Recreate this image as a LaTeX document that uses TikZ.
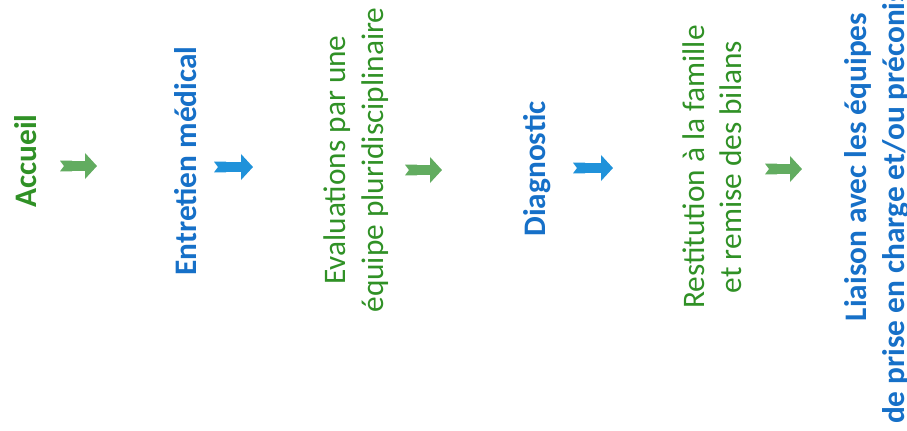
\documentclass[tikz,border=0pt]{standalone}
\usepackage{fontspec}
\setmainfont{Carlito}
\usetikzlibrary{arrows.meta}
\definecolor{stepgreen}{RGB}{48,145,38}
\definecolor{stepblue}{RGB}{22,112,200}
\definecolor{arrgreen}{RGB}{98,172,96}
\definecolor{arrblue}{RGB}{32,146,218}

\begin{document}
\begin{tikzpicture}[x=0.75pt, y=-0.75pt,
    stp/.style={rotate=90, align=center, inner sep=0pt, text=#1,
      font=\fontsize{23.5}{28}\selectfont},
    stpB/.style={stp=#1, font=\fontsize{23.5}{28}\selectfont\bfseries},
    flow/.style={line width=8pt, draw=#1,
      {Triangle Cap[reversed, length=3pt]}-{Triangle[length=9pt, width=19pt]}}]

  \clip (0,0) rectangle (907,430);
  \fill[white] (0,0) rectangle (907,430);

  % ---------------- steps ----------------
  \node[stpB=stepgreen] (accueil) at (26,161) {Accueil};
  \node[stpB=stepblue] (entretien) at (186,161) {Entretien médical};
  \node[stp=stepgreen] (evaluations) at (356,160) {Evaluations par une\\équipe pluridisciplinaire};
  \node[stpB=stepblue] (diagnostic) at (537,169) {Diagnostic};
  \node[stp=stepgreen] (restitution) at (712,167) {Restitution à la famille\\et remise des bilans};
  \node[stpB=stepblue] (liaison) at (877,167) {Liaison avec les équipes\\de prise en charge et/ou préconisations};

  % ---------------- arrows ----------------
  \draw[flow=arrgreen] ([shift={(34,5)}]accueil.center) -- ++(37,0);
  \draw[flow=arrblue] ([shift={(28,6)}]entretien.center) -- ++(39,0);
  \draw[flow=arrgreen] ([shift={(49,10)}]evaluations.center) -- ++(37,0);
  \draw[flow=arrblue] ([shift={(36,-1)}]diagnostic.center) -- ++(40,0);
  \draw[flow=arrgreen] ([shift={(53,2)}]restitution.center) -- ++(37,0);
\end{tikzpicture}
\end{document}
